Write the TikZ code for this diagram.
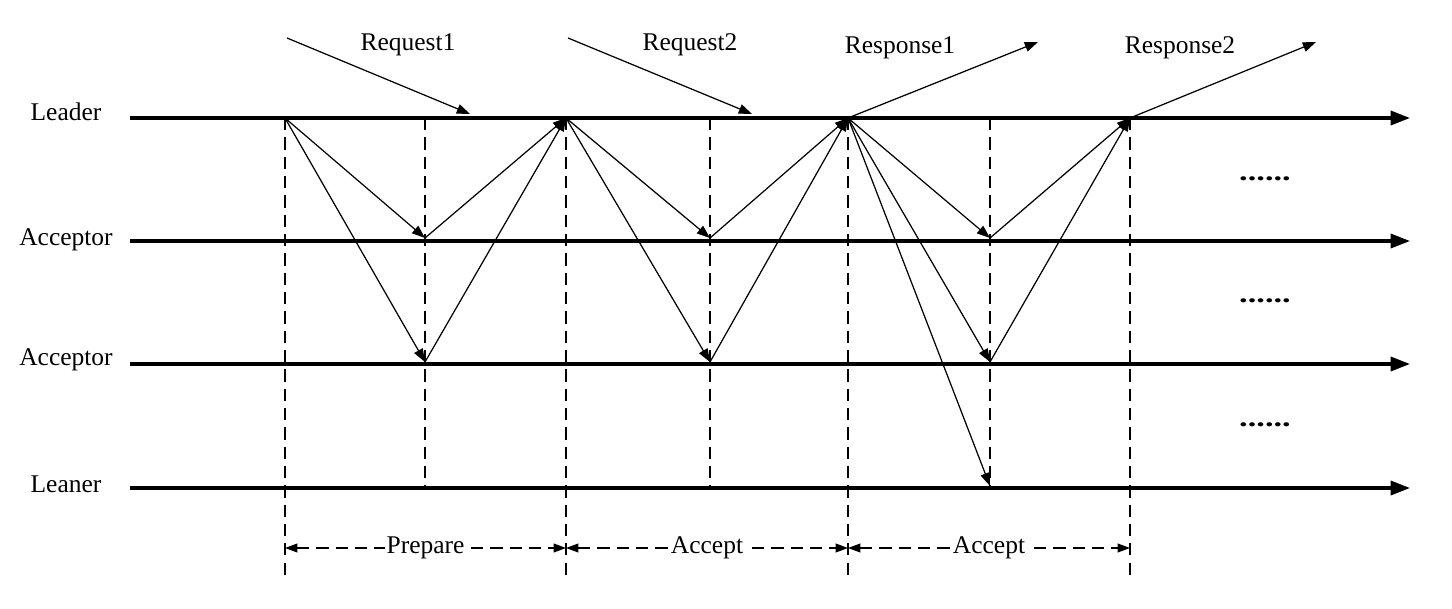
\documentclass[tikz,border=0pt]{standalone}
\usepackage{fontspec}
\setmainfont{Liberation Serif}
\usetikzlibrary{arrows.meta}
\begin{document}
\begin{tikzpicture}[x=0.02cm,y=-0.02cm,
	every node/.style={font=\fontsize{14.5}{16}\selectfont,inner sep=1pt},
	timeline/.style={line width=1.8pt,-{Triangle[length=11pt,width=8pt]}},
	msg/.style={line width=0.7pt,-{Triangle[length=7.5pt,width=5.5pt]}},
	guide/.style={line width=0.8pt,dash pattern=on 7pt off 4pt},
	phase/.style={guide,{Triangle[length=7pt,width=5pt]}-{Triangle[length=7pt,width=5pt]}}]
\useasboundingbox (0,0) rectangle (1452,608);
% time lines
\foreach \y/\name/\lbl/\ly in {118/leader/Leader/112, 241/accA/Acceptor/240,
	364/accB/Acceptor/360, 488/leaner/Leaner/484} {
	\node (\name lbl) at (66,\ly) {\lbl};
	\coordinate (\name s) at (130,\y);
	\coordinate (\name e) at (1410,\y);
	\draw[timeline] (\name s) -- (\name e);
}
% message points
\coordinate (L1) at (285,118);
\coordinate (L2) at (566,118);
\coordinate (L3) at (848,118);
\coordinate (L4) at (1130,118);
\coordinate (A1) at (425,238);
\coordinate (B1) at (425,362);
\coordinate (A2) at (710,238);
\coordinate (B2) at (710,362);
\coordinate (A3) at (990,238);
\coordinate (B3) at (990,362);
\coordinate (C3) at (990,486);
% guides
\foreach \x in {285,566,848,1130} {
	\coordinate (gt\x) at (\x,118);
	\coordinate (gb\x) at (\x,578);
	\draw[guide] (gt\x) -- (gb\x);
}
\foreach \x in {425,710,990} {
	\coordinate (gt\x) at (\x,118);
	\coordinate (gb\x) at (\x,488);
	\draw[guide] (gt\x) -- (gb\x);
}
% messages
\foreach \a/\b in {L1/A1, L1/B1, A1/L2, B1/L2, L2/A2, L2/B2, A2/L3, B2/L3,
	L3/A3, L3/B3, L3/C3, A3/L4, B3/L4}
	\draw[msg] (\a) -- (\b);
% requests and responses
\coordinate (rq1s) at (287,38);
\coordinate (rq1e) at (470,114);
\coordinate (rq2s) at (568,38);
\coordinate (rq2e) at (752,114);
\coordinate (rs1e) at (1038,42);
\coordinate (rs2e) at (1316,42);
\draw[msg] (rq1s) -- (rq1e);
\draw[msg] (rq2s) -- (rq2e);
\draw[msg] (L3) -- (rs1e);
\draw[msg] (L4) -- (rs2e);
\node (rq1) at (408,45) {Request1};
\node (rq2) at (690,45) {Request2};
\node (rs1) at (900,48) {Response1};
\node (rs2) at (1180,48) {Response2};
% more rounds
\foreach \y [count=\i] in {179,301,425}
	\node[xscale=1.35] (more\i) at (1265,\y) {\textbf{......}};
% phases
\coordinate (ph1) at (285,548);
\coordinate (ph2) at (566,548);
\coordinate (ph3) at (848,548);
\coordinate (ph4) at (1130,548);
\draw[phase] (ph1) -- (ph2) node[midway,fill=white] (prep) {Prepare};
\draw[phase] (ph2) -- (ph3) node[midway,fill=white] (acc1) {Accept};
\draw[phase] (ph3) -- (ph4) node[midway,fill=white] (acc2) {Accept};
\end{tikzpicture}
\end{document}
